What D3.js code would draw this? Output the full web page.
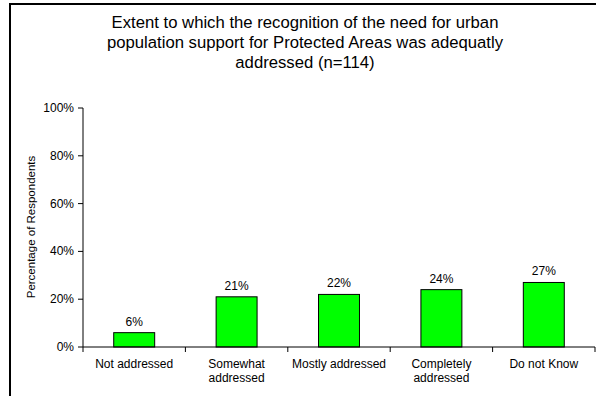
<!DOCTYPE html>
<html>
<head>
<meta charset="utf-8">
<script src="https://cdn.jsdelivr.net/npm/d3@7"></script>
<style>
  body { margin: 0; background: #fff; }
  svg { display: block; font-family: "Liberation Sans", Arial, sans-serif; }
</style>
</head>
<body>
<div id="chart"></div>
<script>
// chart data
var categories = ["Not addressed", "Somewhat addressed", "Mostly addressed", "Completely addressed", "Do not Know"];
var categoryLines = [["Not addressed"], ["Somewhat", "addressed"], ["Mostly addressed"], ["Completely", "addressed"], ["Do not Know"]];
var percentages = [6, 21, 22, 24, 27];
var yTicks = [0, 20, 40, 60, 80, 100];
var titleLines = [
    "Extent to which the recognition of the need for urban",
    "population support for Protected Areas was adequatly",
    "addressed (n=114)"
];

var svgWidth = 596;
var svgHeight = 396;

var svg = d3.select("#chart")
    .append("svg")
    .attr("width", svgWidth)
    .attr("height", svgHeight);

// outer frame (cut off on right and bottom)
svg.append("path")
    .attr("d", "M10,400 L10,4 L600,4")
    .attr("fill", "none")
    .attr("stroke", "#000")
    .attr("stroke-width", 2);

// title
svg.append("g")
    .selectAll("text")
    .data(titleLines)
    .enter()
    .append("text")
    .attr("x", 305)
    .attr("y", (d, i) => 28 + i * 20)
    .attr("text-anchor", "middle")
    .attr("font-size", "16.7px")
    .attr("fill", "#000")
    .text(d => d);

var plot = { left: 83, right: 595, top: 108, bottom: 347 };

var xScale = d3.scaleBand()
    .domain(categories)
    .range([plot.left, plot.right])
    .paddingInner(0.6)
    .paddingOuter(0.3);

var yScale = d3.scaleLinear()
    .domain([0, 100])
    .range([plot.bottom, plot.top]);

var step = xScale.step();

// y axis
var yAxis = svg.append("g");
yAxis.append("line")
    .attr("x1", plot.left).attr("x2", plot.left)
    .attr("y1", plot.top).attr("y2", plot.bottom)
    .attr("stroke", "#000");
yAxis.selectAll(".ytick")
    .data(yTicks)
    .enter()
    .append("line")
    .attr("x1", plot.left - 5).attr("x2", plot.left)
    .attr("y1", d => yScale(d)).attr("y2", d => yScale(d))
    .attr("stroke", "#000");
yAxis.selectAll(".ylabel")
    .data(yTicks)
    .enter()
    .append("text")
    .attr("x", plot.left - 9)
    .attr("y", d => yScale(d) + 4)
    .attr("text-anchor", "end")
    .attr("font-size", "12px")
    .text(d => d + "%");

// y axis title
svg.append("text")
    .attr("transform", "translate(35,227) rotate(-90)")
    .attr("text-anchor", "middle")
    .attr("font-size", "11.5px")
    .text("Percentage of Respondents");

// bars
var bars = svg.append("g")
    .selectAll("g")
    .data(percentages)
    .enter()
    .append("g");

bars.append("rect")
    .attr("x", (d, i) => xScale(categories[i]))
    .attr("y", d => yScale(d))
    .attr("width", xScale.bandwidth())
    .attr("height", d => yScale(0) - yScale(d))
    .attr("fill", "#00ff00")
    .attr("stroke", "#000")
    .attr("stroke-width", 1);

bars.append("text")
    .attr("x", (d, i) => xScale(categories[i]) + xScale.bandwidth() / 2)
    .attr("y", d => yScale(d) - 7)
    .attr("text-anchor", "middle")
    .attr("font-size", "12px")
    .text(d => d + "%");

// x axis
var xAxis = svg.append("g");
xAxis.append("line")
    .attr("x1", plot.left).attr("x2", plot.right)
    .attr("y1", plot.bottom).attr("y2", plot.bottom)
    .attr("stroke", "#000");
var boundaries = categories.map(c => xScale(c) - step * 0.3).concat([plot.right]);
xAxis.selectAll(".xtick")
    .data(boundaries)
    .enter()
    .append("line")
    .attr("x1", d => d).attr("x2", d => d)
    .attr("y1", plot.bottom).attr("y2", plot.bottom + 5)
    .attr("stroke", "#000");

var xLabels = xAxis.selectAll(".xlabel")
    .data(categoryLines)
    .enter()
    .append("text")
    .attr("text-anchor", "middle")
    .attr("font-size", "12px")
    .attr("x", (d, i) => xScale(categories[i]) + xScale.bandwidth() / 2)
    .attr("y", 368);
xLabels.selectAll("tspan")
    .data(d => d)
    .enter()
    .append("tspan")
    .attr("x", function() { return d3.select(this.parentNode).attr("x"); })
    .attr("dy", (d, i) => i === 0 ? 0 : 13.5)
    .text(d => d);
</script>
</body>
</html>
